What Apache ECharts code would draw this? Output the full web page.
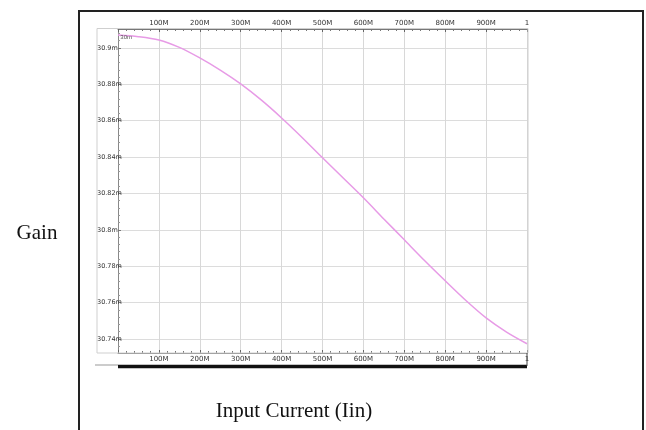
<!DOCTYPE html>
<html>
<head>
<meta charset="utf-8">
<script src="https://cdn.jsdelivr.net/npm/echarts@6/dist/echarts.min.js"></script>
<style>html,body{margin:0;padding:0;background:#fff;}#c{width:646px;height:430px;}</style>
</head>
<body>
<div id="c"></div>
<script>
// Input current (in "M" units as printed on the axis) and gain (in m units)
var currentM = [0, 50, 100, 150, 200, 250, 300, 350, 400, 450, 500, 550, 600, 650, 700, 750, 800, 850, 900, 950, 1000];
var gainM = [30.9071, 30.9062, 30.9044, 30.9003, 30.8945, 30.8878, 30.8802, 30.8714, 30.8615, 30.8508, 30.8396, 30.8286, 30.8176, 30.8060, 30.7945, 30.7830, 30.7720, 30.7613, 30.7516, 30.7438, 30.7374];
var xTickLabels = {100:'100M',200:'200M',300:'300M',400:'400M',500:'500M',600:'600M',700:'700M',800:'800M',900:'900M',1000:'1'};
var yMin = 30.7323, yMax = 30.9104;

var data = currentM.map(function(x, i){ return [x, gainM[i]]; });

function xFmt(v){ return xTickLabels[Math.round(v)] || ''; }
function yFmt(v){
  var s = (Math.round(v*1000)/1000).toString();
  return s + 'm';
}

var chart = echarts.init(document.getElementById('c'), null, {renderer:'canvas'});
var axisCommonX = {
  type:'value', min:0, max:1000, interval:100,
  axisLine:{show:true, lineStyle:{color:'#777', width:1}},
  axisTick:{show:true, inside:true, length:3, lineStyle:{color:'#666'}},
  minorTick:{show:true, splitNumber:5, length:2, lineStyle:{color:'#777'}},
  axisLabel:{formatter:xFmt, fontSize:7, color:'#333', fontFamily:'DejaVu Sans', margin:3, showMinLabel:false}
};
chart.setOption({
  animation:false,
  grid:{left:118, top:29, right:119, bottom:77, containLabel:false},
  xAxis:[
    Object.assign({}, axisCommonX, {position:'bottom',
      splitLine:{show:true, lineStyle:{color:'#d8d8d8', width:1}}}),
    Object.assign({}, axisCommonX, {position:'top', splitLine:{show:false},
      axisLabel:Object.assign({}, axisCommonX.axisLabel, {margin:2})})
  ],
  yAxis:{
    type:'value', min:yMin, max:yMax, minInterval:0.02, maxInterval:0.02,
    axisLine:{show:true, lineStyle:{color:'#888', width:1}},
    axisTick:{show:true, inside:true, length:3, lineStyle:{color:'#777'}},
    minorTick:{show:true, splitNumber:5, length:2, lineStyle:{color:'#999'}},
    splitLine:{show:true, lineStyle:{color:'#dcdcdc', width:1}},
    axisLabel:{formatter:yFmt, fontSize:6.5, color:'#333', fontFamily:'DejaVu Sans', align:'left', margin:21,
      showMinLabel:false, showMaxLabel:false}
  },
  series:[{
    type:'line', data:data, smooth:0.3, showSymbol:false, symbol:'none',
    lineStyle:{color:'#e79be6', width:1.5},
    markPoint:{symbol:'rect', symbolSize:0, data:[{coord:[20, 30.9071], value:'30m',
      label:{show:true, formatter:'30m', fontSize:6, color:'#555', position:'inside', offset:[0,2]}}]}
  }],
  graphic:[
    {type:'rect', shape:{x:79, y:11, width:564, height:440}, style:{fill:'none', stroke:'#222', lineWidth:2}, z:100},
    {type:'rect', shape:{x:97, y:28.5, width:431, height:324.5}, style:{fill:'none', stroke:'#cfcfcf', lineWidth:1}, z:1},
    {type:'line', shape:{x1:95, y1:365, x2:118, y2:365}, style:{stroke:'#999', lineWidth:1}, z:100},
    {type:'line', shape:{x1:118, y1:366.5, x2:527, y2:366.5}, style:{stroke:'#111', lineWidth:3.5}, z:100},
    {type:'line', shape:{x1:527, y1:353, x2:527, y2:366}, style:{stroke:'#444', lineWidth:1}, z:100},
    {type:'text', x:37, y:233, style:{text:'Gain', font:'21px "Liberation Serif", serif', fill:'#111', align:'center', verticalAlign:'middle'}, z:100},
    {type:'text', x:294, y:411, style:{text:'Input Current (Iin)', font:'21px "Liberation Serif", serif', fill:'#111', align:'center', verticalAlign:'middle'}, z:100}
  ]
});
</script>
</body>
</html>
